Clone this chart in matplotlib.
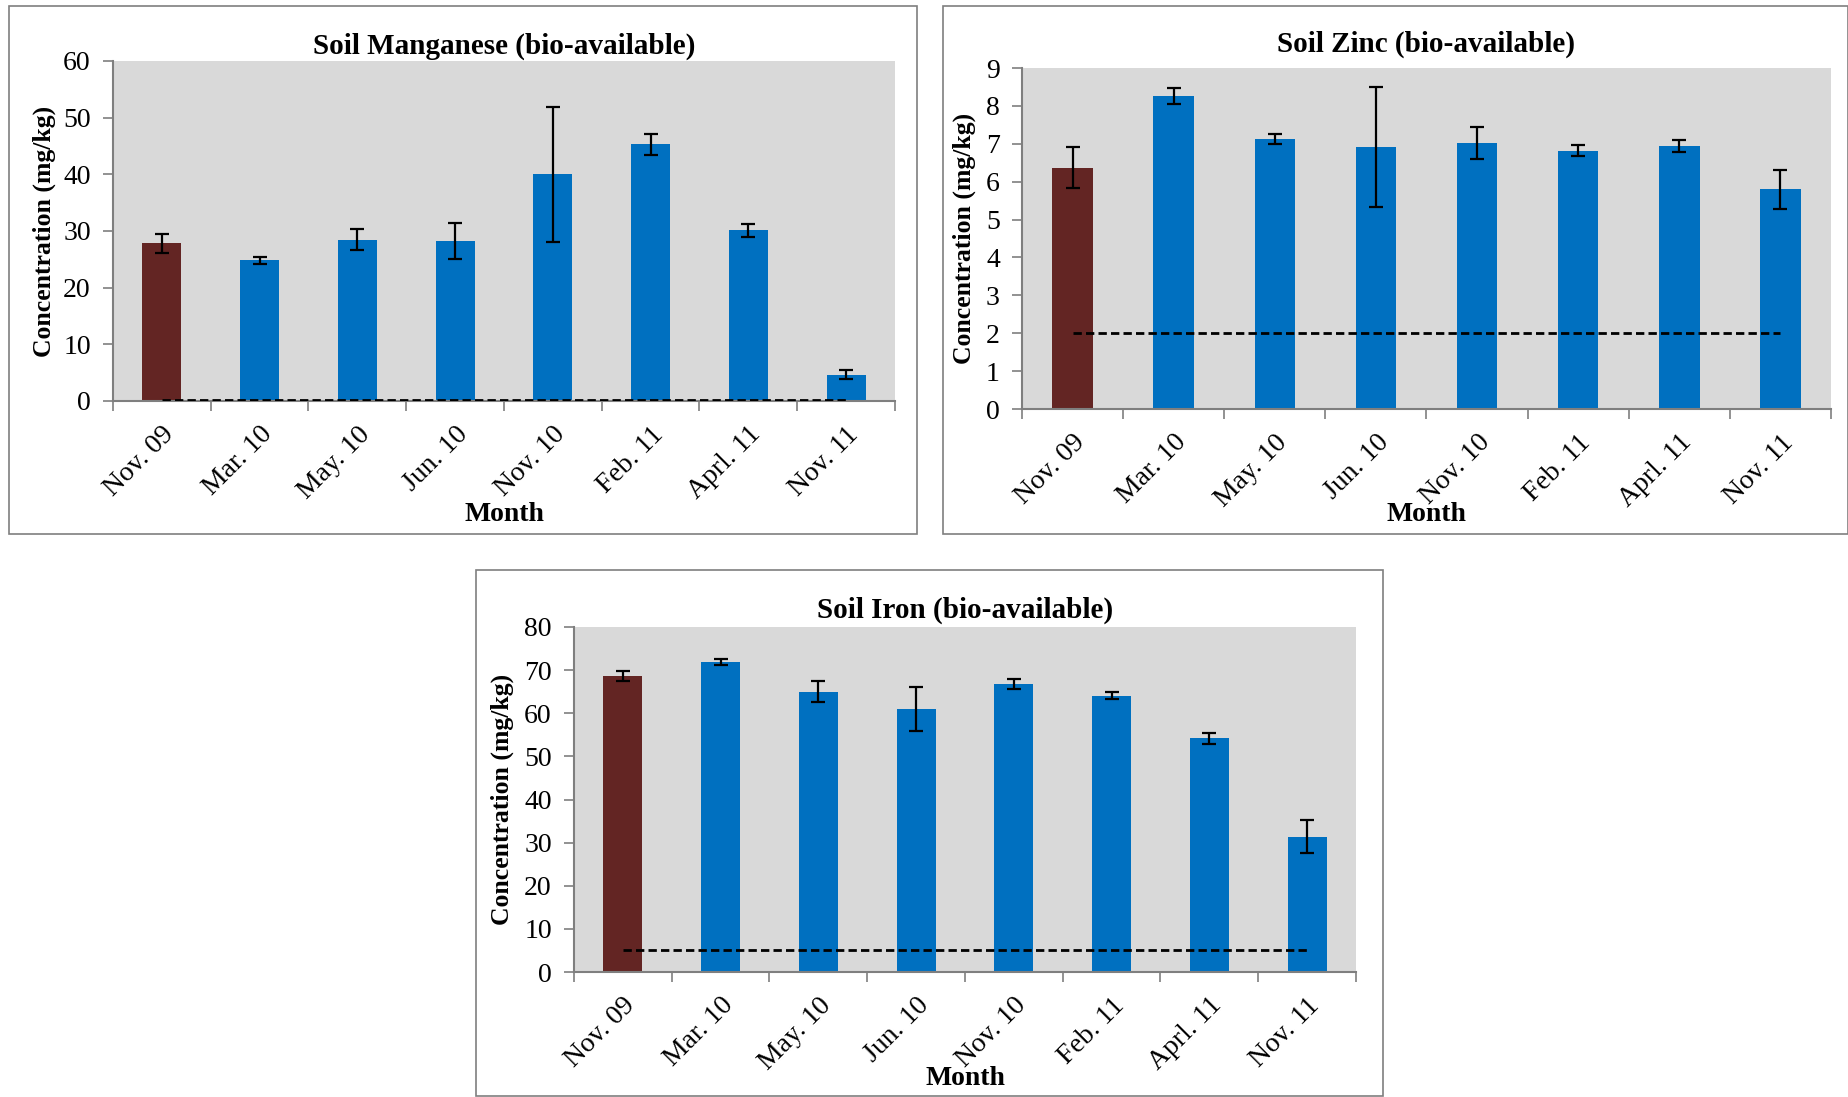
import matplotlib
matplotlib.use('Agg')
import matplotlib.pyplot as plt
from matplotlib.patches import Rectangle
from matplotlib.transforms import ScaledTranslation
import numpy as np

plt.rcParams['font.family'] = ['Liberation Serif', 'DejaVu Serif']

months = ['Nov. 09', 'Mar. 10', 'May. 10', 'Jun. 10', 'Nov. 10', 'Feb. 11', 'Aprl. 11', 'Nov. 11']

mn_vals = [27.8, 24.8, 28.5, 28.3, 40.0, 45.3, 30.1, 4.6]
mn_err = [1.7, 0.6, 1.8, 3.2, 11.9, 1.9, 1.2, 0.8]
mn_limit = 0.2

zn_vals = [6.37, 8.25, 7.13, 6.92, 7.02, 6.82, 6.94, 5.80]
zn_err = [0.55, 0.21, 0.14, 1.58, 0.41, 0.14, 0.16, 0.52]
zn_limit = 2.0

fe_vals = [68.6, 71.8, 65.0, 61.0, 66.8, 64.1, 54.2, 31.4]
fe_err = [1.2, 0.7, 2.5, 5.0, 1.1, 0.8, 1.3, 3.8]
fe_limit = 5.0

W, H = 1849, 1097
fig = plt.figure(figsize=(W / 100, H / 100), dpi=100)


def frac(x0, y0, x1, y1):
    # pixel box (top-left origin) -> figure fraction rect
    return [x0 / W, 1 - y1 / H, (x1 - x0) / W, (y1 - y0) / H]


def panel(frame, box, title, vals, err, limit, ymax, step, tpad, xl_off, yl_off):
    fig.patches.append(Rectangle((frame[0] / W, 1 - frame[3] / H),
                                 (frame[2] - frame[0]) / W, (frame[3] - frame[1]) / H,
                                 transform=fig.transFigure, fill=False,
                                 edgecolor='#7f7f7f', linewidth=1.2))
    ax = fig.add_axes(frac(*box))
    aw, ah = box[2] - box[0], box[3] - box[1]
    ax.set_facecolor('#d9d9d9')
    x = np.arange(len(months))
    colors = ['#632523'] + ['#0070c0'] * (len(months) - 1)
    ax.bar(x, vals, width=0.4, color=colors, zorder=2)
    ax.errorbar(x, vals, yerr=err, fmt='none', ecolor='black', elinewidth=1.6,
                capsize=5, capthick=1.6, zorder=3)
    ax.plot([x[0], x[-1]], [limit, limit], color='black', linestyle=(0, (3, 1.5)),
            linewidth=2, zorder=4)
    ax.set_xlim(-0.5, len(months) - 0.5)
    ax.set_ylim(0, ymax)
    ax.set_yticks(np.arange(0, ymax + step / 2, step))
    ax.set_xticks(x)
    ax.set_xticklabels(months, rotation=45, ha='right', rotation_mode='anchor',
                       fontsize=20)
    shift = ScaledTranslation(-6 / 100, 0, fig.dpi_scale_trans)
    for lab in ax.get_xticklabels():
        lab.set_transform(lab.get_transform() + shift)
    ax.set_xticks(np.arange(-0.5, len(months)), minor=True)
    ax.tick_params(axis='x', which='major', length=0, pad=15)
    ax.tick_params(axis='x', which='minor', length=7, color='#7f7f7f', width=1.2)
    ax.tick_params(axis='y', length=7, color='#7f7f7f', width=1.2, labelsize=20, pad=9)
    for s in ['top', 'right']:
        ax.spines[s].set_visible(False)
    for s in ['left', 'bottom']:
        ax.spines[s].set_color('#7f7f7f')
        ax.spines[s].set_linewidth(1.5)
    ax.set_title(title, fontsize=21, fontweight='bold', pad=tpad)
    ax.set_ylabel('Concentration (mg/kg)', fontsize=18.5, fontweight='bold')
    ax.yaxis.set_label_coords(-yl_off / aw, 0.5)
    ax.set_xlabel('Month', fontsize=20, fontweight='bold')
    ax.xaxis.set_label_coords(0.5, -xl_off / ah)
    return ax


panel((9, 6, 917, 534), (113, 61, 895, 401), 'Soil Manganese (bio-available)',
      mn_vals, mn_err, mn_limit, 60, 10, 5, 101, 57)
panel((943, 6, 1848, 534), (1022, 68, 1831, 409), 'Soil Zinc (bio-available)',
      zn_vals, zn_err, zn_limit, 9, 1, 11.5, 93, 46)
panel((476, 570, 1383, 1096), (574, 627, 1356, 972), 'Soil Iron (bio-available)',
      fe_vals, fe_err, fe_limit, 80, 10, 7, 94, 60)

fig.savefig('out.png', dpi=100)
